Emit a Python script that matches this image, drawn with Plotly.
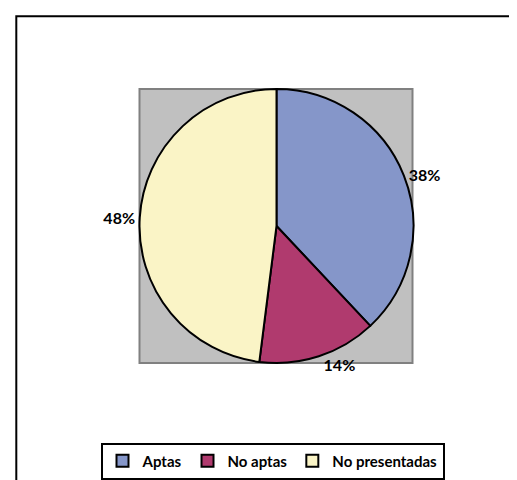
import plotly.graph_objs as go

categories = ['Aptas', 'No aptas', 'No presentadas']
values = [38, 14, 48]
colors = ['#8596C9', '#B03A6E', '#FAF4C6']

W, H = 517, 480


def px_x(v):
    return v / W


def px_y(v):
    return 1 - v / H


fig = go.Figure()

fig.add_trace(go.Pie(
    labels=categories,
    values=values,
    sort=False,
    direction='clockwise',
    rotation=0,
    marker=dict(colors=colors, line=dict(color='black', width=2)),
    textinfo='percent',
    textposition='outside',
    textfont=dict(family='Lato', size=16, color='black', weight='bold'),
    domain=dict(x=[px_x(131.5), px_x(405.5)], y=[px_y(355), px_y(81)]),
    hoverinfo='label+percent'
))

# gray plot area behind the pie
fig.add_shape(type='rect', xref='paper', yref='paper',
              x0=px_x(131.5), x1=px_x(404.5), y0=px_y(355), y1=px_y(81),
              fillcolor='#C0C0C0', line=dict(color='#808080', width=2),
              layer='below')

# chart frame (extends past the right and bottom edges)
fig.add_shape(type='rect', xref='paper', yref='paper',
              x0=px_x(8.3), x1=1.1, y0=-0.1, y1=px_y(8.3),
              fillcolor='rgba(0,0,0,0)', line=dict(color='black', width=2),
              layer='below')

fig.update_layout(
    width=W, height=H,
    margin=dict(l=0, r=0, t=0, b=0),
    paper_bgcolor='white',
    plot_bgcolor='white',
    showlegend=True,
    legend=dict(
        orientation='h',
        x=px_x(264.5), xanchor='center',
        y=px_y(453), yanchor='middle',
        bordercolor='black', borderwidth=2,
        bgcolor='white',
        font=dict(family='Lato', size=15, color='black', weight='bold'),
        itemwidth=30,
        tracegroupgap=0
    )
)

fig.write_html('out.html')
